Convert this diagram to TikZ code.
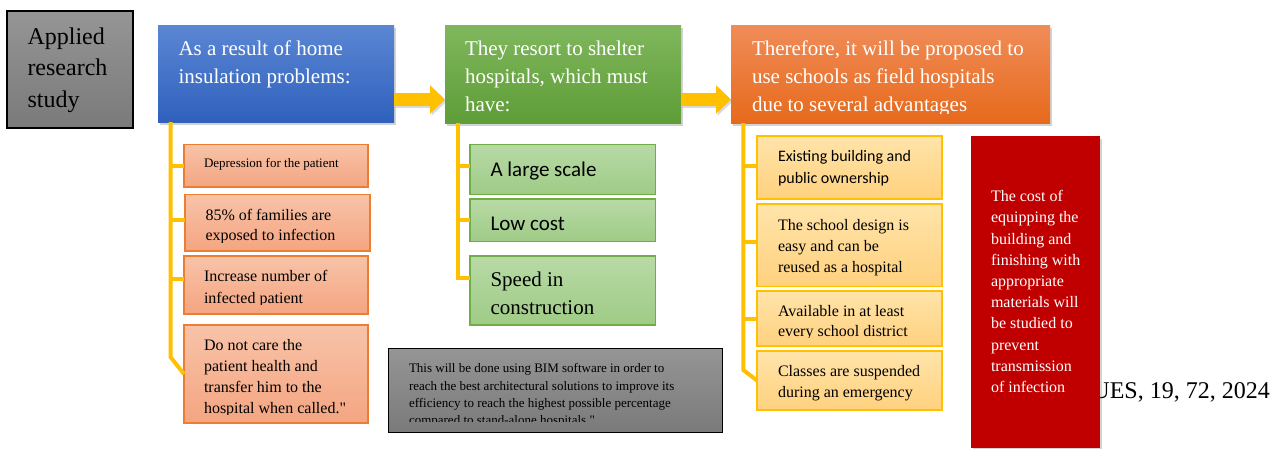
\documentclass[tikz,border=0pt]{standalone}
\usepackage{fontspec}
\setmainfont{Liberation Serif}
\newfontfamily\tnr{Liberation Serif}
\newfontfamily\tnrq{Liberation Serif}[Ligatures=TeXOff]
\newfontfamily\calib{Carlito}
\usetikzlibrary{shadows,calc}
\definecolor{grayT}{HTML}{959595}
\definecolor{grayB}{HTML}{7A7A7A}
\definecolor{blueT}{HTML}{5B86D3}
\definecolor{blueB}{HTML}{2F61BD}
\definecolor{greenT}{HTML}{80B75D}
\definecolor{greenB}{HTML}{5E9D37}
\definecolor{orangeT}{HTML}{F08C58}
\definecolor{orangeB}{HTML}{E66A1C}
\definecolor{salT}{HTML}{F8C3A8}
\definecolor{salB}{HTML}{F4A581}
\definecolor{salD}{HTML}{ED7D31}
\definecolor{gsT}{HTML}{B8DAA6}
\definecolor{gsB}{HTML}{9FCB86}
\definecolor{gsD}{HTML}{70AD47}
\definecolor{ysT}{HTML}{FFE4AA}
\definecolor{ysB}{HTML}{FFD17E}
\definecolor{yel}{HTML}{FFC000}
\definecolor{darkred}{HTML}{C00000}
\newcommand\ptxt[1]{\parbox[t]{400pt}{#1}}
\newcommand\qq{{\tnrq"}}
\newcommand\bx[6]{\node[#2, minimum width={#5-#3}, minimum height={#6-#4}, anchor=north west] (#1) at (#3,#4) {};}
\begin{document}
\begin{tikzpicture}[x=1pt,y=-1pt,
  base/.style={inner sep=0, outer sep=0, rectangle},
  shad/.style={drop shadow={shadow xshift=2pt,shadow yshift=-3pt,opacity=0.35}},
  graybox/.style={base, draw=black, line width=1.3pt, top color=grayT, bottom color=grayB},
  bluebox/.style={base, shad, top color=blueT, bottom color=blueB},
  greenbox/.style={base, shad, top color=greenT, bottom color=greenB},
  orangebox/.style={base, shad, top color=orangeT, bottom color=orangeB},
  salbox/.style={base, draw=salD, line width=1.2pt, top color=salT, bottom color=salB},
  gsbox/.style={base, draw=gsD, line width=1.2pt, top color=gsT, bottom color=gsB},
  ysbox/.style={base, draw=yel, line width=1.2pt, top color=ysT, bottom color=ysB},
  redbox/.style={base, shad, fill=darkred},
  tx/.style={anchor=base west, inner sep=0, outer sep=0},
  wtx/.style={tx, text=white},
  tree/.style={draw=yel, line width=4pt},
  arrowfill/.style={fill=yel, drop shadow={shadow xshift=1.5pt,shadow yshift=-2pt,opacity=0.3}},
]
\useasboundingbox (0,0) rectangle (1279,448);

% ---------- main boxes ----------
\bx{appl}{graybox}{7}{11}{133}{128}
\bx{blue}{bluebox}{158}{25}{394}{122}
\bx{green}{greenbox}{445}{25}{681}{123}
\bx{orange}{orangebox}{731}{25}{1050}{123}

\node[tx, font=\tnr\fontsize{24}{31.7}\selectfont] (applT) at (27.5,44) {\ptxt{Applied\\research\\study}};
\node[wtx, font=\tnr\fontsize{21}{28.3}\selectfont] (blueT) at (178.5,55) {\ptxt{As a result of home\\insulation problems:}};
\node[wtx, font=\tnr\fontsize{21}{28.3}\selectfont] (greenT) at (465,55) {\ptxt{They resort to shelter\\hospitals, which must\\have:}};
\begin{scope}
\clip (731,25) rectangle (1050,113);
\node[wtx, font=\tnr\fontsize{21}{28.3}\selectfont] (orangeT) at (752,55) {\ptxt{Therefore, it will be proposed to\\use schools as field hospitals\\due to several advantages}};
\end{scope}

% ---------- block arrows ----------
\coordinate (a1s) at (blue.east |- 0,99.5);
\coordinate (a1e) at (green.west |- 0,99.5);
\fill[arrowfill] ($(a1s)+(0,-6.3)$) -- ($(a1e)+(-15,-6.3)$) -- ($(a1e)+(-15,-14.3)$) -- (a1e)
  -- ($(a1e)+(-15,14.3)$) -- ($(a1e)+(-15,6.3)$) -- ($(a1s)+(0,6.3)$) -- cycle;
\coordinate (a2s) at (green.east |- 0,99.5);
\coordinate (a2e) at (orange.west |- 0,99.5);
\fill[arrowfill] ($(a2s)+(0,-6.3)$) -- ($(a2e)+(-15,-6.3)$) -- ($(a2e)+(-15,-14.3)$) -- (a2e)
  -- ($(a2e)+(-15,14.3)$) -- ($(a2e)+(-15,6.3)$) -- ($(a2s)+(0,6.3)$) -- cycle;

% ---------- sub boxes ----------
\coordinate (bT) at (170.5,357);
\coordinate (gT) at (458,278.3);
\coordinate (oT) at (743.3,370);

\bx{s1}{salbox}{184}{144.5}{368}{187}
\bx{s2}{salbox}{185}{194.5}{370}{251}
\bx{s3}{salbox}{184}{256}{368}{314}
\bx{s4}{salbox}{184}{325}{368}{423}
\bx{g1}{gsbox}{470}{144.5}{655.5}{194.5}
\bx{g2}{gsbox}{470}{199}{655.5}{241.5}
\bx{g3}{gsbox}{470}{256}{655.5}{325}
\bx{o1}{ysbox}{757}{136}{942}{199}
\bx{o2}{ysbox}{757}{204}{942}{286.5}
\bx{o3}{ysbox}{757}{291}{942}{346}
\bx{o4}{ysbox}{757}{351}{942}{410}

% ---------- yellow trees ----------
\draw[tree] (blue.south -| bT) -- (bT) -- (s4.west);
\draw[tree] (bT |- 0,166) -- (s1.west |- 0,166);
\draw[tree] (bT |- 0,220) -- (s2.west |- 0,220);
\draw[tree] (bT |- 0,279) -- (s3.west |- 0,279);

\draw[tree] (green.south -| gT) -- (gT) -- (g3.west |- gT);
\draw[tree] (gT |- 0,166) -- (g1.west |- 0,166);
\draw[tree] (gT |- 0,220) -- (g2.west |- 0,220);

\draw[tree] (orange.south -| oT) -- (oT) -- (o4.west);
\draw[tree] (oT |- 0,166) -- (o1.west |- 0,166);
\draw[tree] (oT |- 0,241.7) -- (o2.west |- 0,241.7);
\draw[tree] (oT |- 0,319) -- (o3.west |- 0,319);

% ---------- sub box texts ----------
\node[tx, font=\tnr\fontsize{13}{16}\selectfont] (s1T) at (204,167.3) {\ptxt{Depression for the patient}};
\begin{scope}
\clip (185,194.5) rectangle (370,242);
\node[tx, font=\tnr\fontsize{16}{20.5}\selectfont] (s2T) at (205.5,220) {\ptxt{85\% of families are\\exposed to infection}};
\end{scope}
\begin{scope}
\clip (184,256) rectangle (368,304.5);
\node[tx, font=\tnr\fontsize{16}{21.3}\selectfont] (s3T) at (204,281.7) {\ptxt{Increase number of\\infected patient}};
\end{scope}
\begin{scope}
\clip (184,325) rectangle (368,414.5);
\node[tx, font=\tnr\fontsize{16}{20.8}\selectfont] (s4T) at (204,350.7) {\ptxt{Do not care the\\patient health and\\transfer him to the\\hospital when called.\qq}};
\end{scope}

\node[tx, font=\calib\fontsize{21}{27}\selectfont] (g1T) at (490.5,176) {\ptxt{A large scale}};
\node[tx, font=\calib\fontsize{21}{27}\selectfont] (g2T) at (490.5,230) {\ptxt{Low cost}};
\node[tx, font=\tnr\fontsize{21}{27.3}\selectfont] (g3T) at (490.5,286.7) {\ptxt{Speed in\\construction}};

\node[tx, font=\calib\fontsize{16}{21.6}\selectfont] (o1T) at (778,161.7) {\ptxt{Existing building and\\public ownership}};
\node[tx, font=\tnr\fontsize{16}{21}\selectfont] (o2T) at (778,230) {\ptxt{The school design is\\easy and can be\\reused as a hospital}};
\begin{scope}
\clip (757,291) rectangle (942,337);
\node[tx, font=\tnr\fontsize{16}{20}\selectfont] (o3T) at (778,316) {\ptxt{Available in at least\\every school district}};
\end{scope}
\node[tx, font=\tnr\fontsize{16}{20.3}\selectfont] (o4T) at (778,376.7) {\ptxt{Classes are suspended\\during an emergency}};

% ---------- citation text (behind red box) ----------
\node[anchor=base east, inner sep=0, font=\tnr\fontsize{24}{28}\selectfont] (cite) at (1270,398.3) {UES, 19, 72, 2024};

% ---------- red box ----------
\bx{red}{redbox}{971}{136}{1100}{448}
\node[wtx, font=\tnr\fontsize{16}{21.2}\selectfont] (redT) at (991,201.7) {\ptxt{The cost of\\equipping the\\building and\\finishing with\\appropriate\\materials will\\be studied to\\prevent\\transmission\\of infection}};

% ---------- bottom gray box ----------
\bx{note}{graybox}{388.5}{348.5}{722.5}{432.5}
\begin{scope}
\clip (388.5,348.5) rectangle (722.5,421.7);
\node[tx, font=\tnr\fontsize{13}{17.3}\selectfont] (noteT) at (409,372.7) {\ptxt{This will be done using BIM software in order to\\reach the best architectural solutions to improve its\\efficiency to reach the highest possible percentage\\compared to stand-alone hospitals \qq}};
\end{scope}
\end{tikzpicture}
\end{document}
